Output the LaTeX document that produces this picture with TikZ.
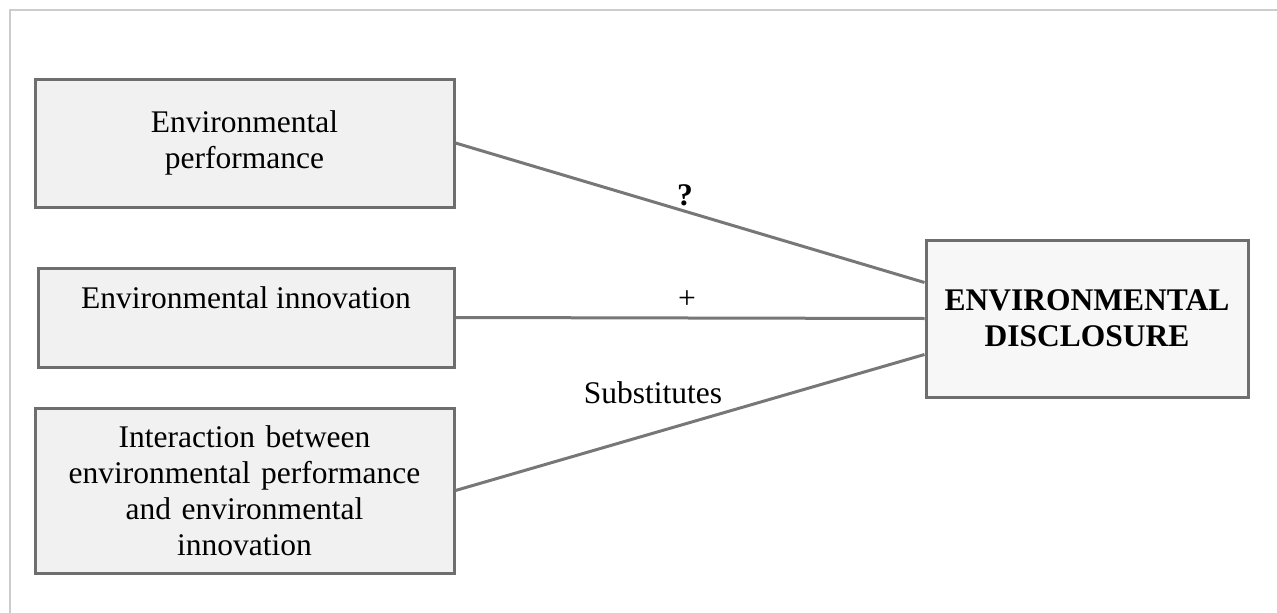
\documentclass[tikz,border=0pt]{standalone}
\usepackage{fontspec}
\setmainfont{Liberation Serif}
\begin{document}
\begin{tikzpicture}[x=1pt,y=-1pt,
  every node/.style={font=\fontsize{31.5}{36}\selectfont, text=black},
  factor/.style={draw=boxline, line width=3pt, fill=boxfill, inner sep=0pt, align=center},
  outcome/.style={factor, fill=outfill, font=\fontsize{31.5}{36}\selectfont\bfseries},
  link/.style={draw=linkgray, line width=3pt},
]
\definecolor{boxline}{HTML}{6E6E6E}
\definecolor{boxfill}{HTML}{F1F1F1}
\definecolor{outfill}{HTML}{F7F7F7}
\definecolor{linkgray}{HTML}{777777}
\definecolor{framegray}{HTML}{CCCCCC}
\useasboundingbox (0,0) rectangle (1277,613);
% frame
\coordinate (fa) at (10,613);
\coordinate (fb) at (10,10);
\coordinate (fc) at (1277,10);
\draw[framegray, line width=2pt] (fa) -- (fb) -- (fc);

% factors
\node[factor, minimum width=419, minimum height=128, text width=400] (b1) at (244.5,143)
  {Environmental\\performance};
\node[factor, minimum width=416, minimum height=99] (b2) at (246,317.5) {};
\node[anchor=base] (b2t) at ([yshift=-42pt]b2.north) {Environmental innovation};
\node[factor, minimum width=419, minimum height=165, text width=400] (b3) at (244.5,490.5)
  {Interaction between\\environmental performance\\and environmental\\innovation};
\node[outcome, minimum width=322, minimum height=157, text width=310] (b4) at (1087,318.5)
  {ENVIRONMENTAL\\DISCLOSURE};

% links
\draw[link] (b1.east) -- ([yshift=36pt]b4.west);
\draw[link] (b2.east) -- (b4.west);
\draw[link] (b3.east) -- ([yshift=-36pt]b4.west);

% link labels
\node[font=\fontsize{31.5}{36}\selectfont\bfseries] (q) at (685,195) {?};
\node (plus) at (687,300) {+};
\node (subs) at (653,393) {Substitutes};
\end{tikzpicture}
\end{document}
